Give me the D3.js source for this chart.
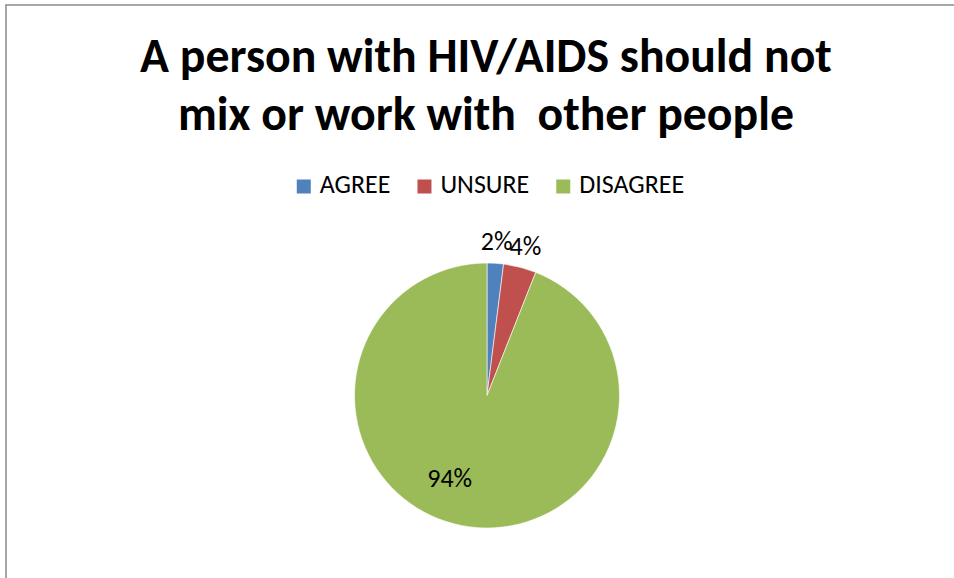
<!DOCTYPE html>
<html>
<head>
<meta charset="utf-8">
<script src="https://cdn.jsdelivr.net/npm/d3@7"></script>
<style>
  html, body { margin: 0; padding: 0; background: #fff; }
  svg { display: block; }
  text { font-family: Carlito, Calibri, Lato, "Open Sans", sans-serif; }
</style>
</head>
<body>
<svg id="chart" width="954" height="578"></svg>
<script>
const categories = ["AGREE", "UNSURE", "DISAGREE"];
const values = [2, 4, 94];
const colors = ["#4F81BD", "#C0504D", "#9BBB59"];
const titleLines = ["A person with HIV/AIDS should not", "mix or work with  other people"];

const W = 954, H = 578;
const svg = d3.select("#chart");

// chart frame
svg.append("rect")
  .attr("x", 6).attr("y", 5)
  .attr("width", W + 20).attr("height", H + 20)
  .attr("fill", "#fff")
  .attr("stroke", "#8a8a8a").attr("stroke-width", 1.5);

// title
const title = svg.append("g");
const titleBaselines = [72, 130];
const tl = title.selectAll("text").data(titleLines).join("text")
  .attr("x", 486)
  .attr("y", (d, i) => titleBaselines[i])
  .attr("text-anchor", "middle")
  .attr("font-weight", "bold")
  .attr("font-size", 40)
  .style("white-space", "pre")
  .attr("fill", "#000")
  .text(d => d);
// fit first line to reference width
const w0 = tl.node().getComputedTextLength();
const titleSize = 40 * 692 / w0;
tl.attr("font-size", titleSize);

// legend
const legendFont = 20;
const legend = svg.append("g");
const items = legend.selectAll("g").data(categories).join("g");
items.append("rect")
  .attr("width", 14).attr("height", 14)
  .attr("y", 179.5)
  .attr("fill", (d, i) => colors[i]);
const lt = items.append("text")
  .attr("x", 23)
  .attr("y", 193.3)
  .attr("font-size", legendFont)
  .attr("fill", "#000")
  .text(d => d);
// fit legend font so "DISAGREE" is ~105px wide
const wd = lt.filter((d, i) => i === 2).node().getComputedTextLength();
const lf = legendFont * 105 / wd;
lt.attr("font-size", lf);
const widths = lt.nodes().map(n => n.getComputedTextLength());
const itemW = widths.map(w => 23 + w);
const gap = 27;
const total = d3.sum(itemW) + gap * (itemW.length - 1);
let xs = [], acc = 490.5 - total / 2;
itemW.forEach(w => { xs.push(acc); acc += w + gap; });
items.attr("transform", (d, i) => `translate(${xs[i]},0)`);

// pie
const cx = 487, cy = 395.5, r = 132.5;
const pie = d3.pie().sort(null).value(d => d);
const arcs = pie(values);
const arc = d3.arc().innerRadius(0).outerRadius(r);
const g = svg.append("g").attr("transform", `translate(${cx},${cy})`);
g.selectAll("path").data(arcs).join("path")
  .attr("d", arc)
  .attr("fill", (d, i) => colors[i])
  .attr("stroke", "#fff")
  .attr("stroke-width", 0.6);

// labels
function labelPos(d) {
  const span = d.endAngle - d.startAngle;
  let a, rr;
  if (span < 0.5) { a = (d.startAngle + d.endAngle) / 2; rr = r + 22; }
  else { a = d.startAngle + 0.54 * span; rr = r * 0.684; }
  return [Math.sin(a) * rr, -Math.cos(a) * rr];
}
g.selectAll("text").data(arcs).join("text")
  .attr("transform", d => `translate(${labelPos(d)})`)
  .attr("text-anchor", "middle")
  .attr("dy", "0.35em")
  .attr("font-size", lf)
  .attr("fill", "#000")
  .text(d => d.data + "%");
</script>
</body>
</html>
